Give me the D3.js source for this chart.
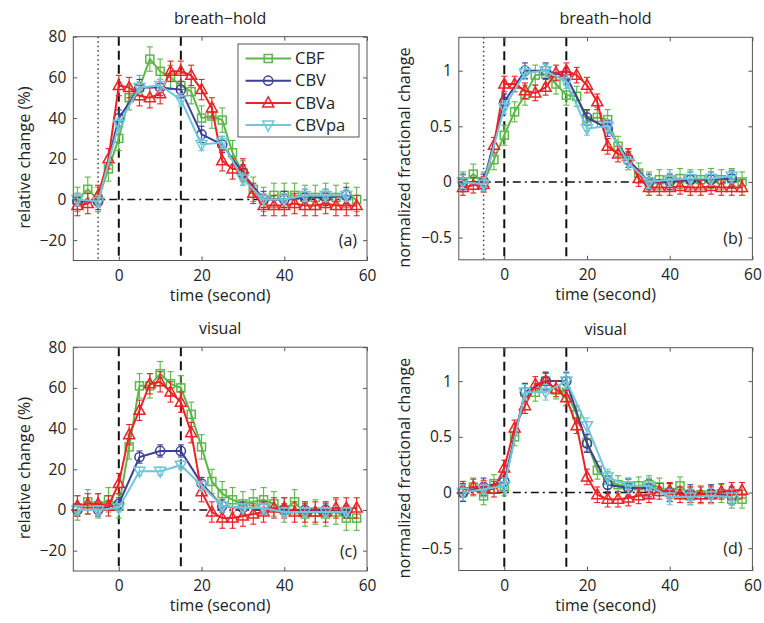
<!DOCTYPE html>
<html>
<head>
<meta charset="utf-8">
<script src="https://cdn.jsdelivr.net/npm/d3@7"></script>
<style>
  body { margin: 0; background: #fff; }
  text { font-family: "Open Sans", "DejaVu Sans", sans-serif; fill: #222; }
</style>
</head>
<body>
<div id="chart"></div>
<script>
// time points (s)
const tFine = [-10, -7.5, -5, -2.5, 0, 2.5, 5, 7.5, 10, 12.5, 15, 17.5, 20, 22.5, 25, 27.5, 30, 32.5, 35, 37.5, 40, 42.5, 45, 47.5, 50, 52.5, 55, 57.5];
const tCoarse = [-10, -5, 0, 5, 10, 15, 20, 25, 30, 35, 40, 45, 50, 55];

const seriesNames = ["CBF", "CBV", "CBVa", "CBVpa"];

// (a) breath-hold, relative change (%)
const bhCBF   = [0, 5, 0, 15, 30, 50, 55, 69, 63, 60, 56, 53, 40, 41, 39, 23, 13, 5, 0, 2, 2, 2, 1, 1, 2, 1, 2, 0];
const bhCBV   = [-1, -1, 40, 55, 55, 54, 32, 27, 13, 0, 0, 1, 1, 2];
const bhCBVa  = [-3, -2, 2, 20, 56, 55, 51, 50, 52, 63, 63, 61, 54, 45, 19, 15, 15, 3, -3, -3, -3, -2, -3, -3, -2, -3, -3, -3];
const bhCBVpa = [0, -1, 37, 55, 56, 49, 27, 28, 10, 0, 0, 2, 2, 2];
const bhErr   = [6, 4, 5, 3];

// (b) breath-hold, normalized
const bhCBFn   = [0, 0.07, 0, 0.2, 0.42, 0.63, 0.78, 0.96, 0.97, 0.88, 0.78, 0.77, 0.55, 0.58, 0.56, 0.32, 0.2, 0.08, 0, 0.02, 0.02, 0.03, 0.02, 0.02, 0.03, 0.02, 0.03, 0];
const bhCBVn   = [0, 0, 0.72, 1.0, 1.0, 0.95, 0.58, 0.48, 0.2, 0, 0, 0.02, 0.02, 0.03];
const bhCBVan  = [-0.05, -0.03, -0.02, 0.33, 0.88, 0.88, 0.82, 0.8, 0.85, 0.98, 1.0, 0.96, 0.87, 0.72, 0.32, 0.25, 0.23, 0.03, -0.05, -0.05, -0.05, -0.04, -0.05, -0.05, -0.04, -0.05, -0.05, -0.05];
const bhCBVpan = [0, -0.02, 0.67, 0.98, 1.0, 0.9, 0.48, 0.5, 0.17, 0, 0.02, 0.03, 0.03, 0.05];
const bhErrN   = [0.09, 0.07, 0.07, 0.06];

// (c) visual, relative change (%)
const vCBF   = [1, 4, 2, 5, 2, 31, 61, 61, 67, 62, 60, 47, 31, 14, 8, 5, 3, 4, 5, 3, 0, 4, -2, -1, -2, -1, -4, -4];
const vCBV   = [0, 0, 3, 26, 29, 29, 13, 2, 1, 1, 0, 0, 0, -1];
const vCBVa  = [2, 3, 3, 2, 13, 37, 49, 62, 63, 58, 53, 38, 9, -1, -4, -4, -3, -2, -1, 1, 1, -1, -1, -1, -1, 1, 1, 1];
const vCBVpa = [0, 0, 1, 19, 19, 22, 12, 2, 1, 1, -1, -1, -1, -1];
const vErr   = [6, 3, 5, 2];

// (d) visual, normalized
const vCBFn   = [0, 0.05, -0.03, 0.08, 0.05, 0.5, 0.9, 0.9, 1.0, 0.92, 0.9, 0.7, 0.45, 0.2, 0.11, 0.07, 0.05, 0.06, 0.07, 0.05, 0, 0.06, -0.03, -0.02, -0.02, -0.01, -0.06, -0.06];
const vCBVn   = [0, 0.05, 0.1, 0.9, 1.0, 1.0, 0.44, 0.07, 0.04, 0.04, 0, -0.01, -0.01, -0.03];
const vCBVan  = [0.03, 0.05, 0.04, 0.03, 0.22, 0.58, 0.78, 0.97, 1.0, 0.93, 0.85, 0.6, 0.14, -0.02, -0.06, -0.06, -0.05, -0.03, -0.02, 0.01, 0.02, -0.02, -0.02, -0.02, -0.02, 0.01, 0.02, 0.02];
const vCBVpan = [0, 0.03, 0.06, 0.9, 0.9, 1.0, 0.6, 0.14, 0.06, 0.06, -0.04, -0.04, -0.03, -0.04];
const vErrN   = [0.08, 0.08, 0.07, 0.07];

const xTicks = [0, 20, 40, 60];
const yTicksPct = [-20, 0, 20, 40, 60, 80];
const yTicksNorm = [-0.5, 0, 0.5, 1];

const colors = ["#5cb848", "#3d3f98", "#ec2227", "#70c6da"];
const shapes = ["square", "circle", "up", "down"];

const width = 764, height = 623;
const svg = d3.select("#chart").append("svg")
    .attr("width", width)
    .attr("height", height);

function marker(g, shape, x, y, color) {
    let m;
    if (shape === "square") {
        m = g.append("rect").attr("x", x - 4).attr("y", y - 4).attr("width", 8).attr("height", 8);
    } else if (shape === "circle") {
        m = g.append("circle").attr("cx", x).attr("cy", y).attr("r", 4.6);
    } else if (shape === "up") {
        m = g.append("path").attr("d", `M${x},${y - 6}L${x + 5.5},${y + 4}L${x - 5.5},${y + 4}Z`);
    } else {
        m = g.append("path").attr("d", `M${x},${y + 6}L${x + 5.5},${y - 4}L${x - 5.5},${y - 4}Z`);
    }
    m.attr("fill", "none").attr("stroke", color).attr("stroke-width", 1.5);
}

function drawPanel(p) {
    const x = d3.scaleLinear().domain([-11, 60]).range([p.left, p.right]);
    const y = d3.scaleLinear().domain(p.yDomain).range([p.bottom, p.top]);
    const g = svg.append("g");

    // plot area
    g.append("rect")
        .attr("x", p.left).attr("y", p.top)
        .attr("width", p.right - p.left).attr("height", p.bottom - p.top)
        .attr("fill", "#fff");

    // reference lines
    g.append("line")
        .attr("x1", x(-11)).attr("x2", x(57.5))
        .attr("y1", y(0)).attr("y2", y(0))
        .attr("stroke", "#111").attr("stroke-width", 1.6)
        .attr("stroke-dasharray", "8,4,2,4");
    [0, 15].forEach(t => {
        g.append("line")
            .attr("x1", x(t)).attr("x2", x(t))
            .attr("y1", p.top).attr("y2", p.bottom)
            .attr("stroke", "#111").attr("stroke-width", 2)
            .attr("stroke-dasharray", "9,5");
    });
    if (p.dotted) {
        g.append("line")
            .attr("x1", x(-5)).attr("x2", x(-5))
            .attr("y1", p.top).attr("y2", p.bottom)
            .attr("stroke", "#333").attr("stroke-width", 1.4)
            .attr("stroke-dasharray", "1.5,3");
    }

    // series
    p.series.forEach((vals, i) => {
        const ts = (i === 0 || i === 2) ? tFine : tCoarse;
        const pts = vals.map((v, k) => [ts[k], v]);
        const err = p.err[i];
        const c = colors[i];
        const sg = g.append("g");

        pts.forEach(d => {
            const xx = x(d[0]);
            sg.append("line")
                .attr("x1", xx).attr("x2", xx)
                .attr("y1", y(d[1] - err)).attr("y2", y(d[1] + err))
                .attr("stroke", c).attr("stroke-width", 1.1);
            [d[1] - err, d[1] + err].forEach(e => {
                sg.append("line")
                    .attr("x1", xx - 3).attr("x2", xx + 3)
                    .attr("y1", y(e)).attr("y2", y(e))
                    .attr("stroke", c).attr("stroke-width", 1.1);
            });
        });

        sg.append("path")
            .attr("d", d3.line().x(d => x(d[0])).y(d => y(d[1]))(pts))
            .attr("fill", "none").attr("stroke", c).attr("stroke-width", 2);

        pts.forEach(d => marker(sg, shapes[i], x(d[0]), y(d[1]), c));
    });

    // box + inward ticks on all sides
    g.append("rect")
        .attr("x", p.left).attr("y", p.top)
        .attr("width", p.right - p.left).attr("height", p.bottom - p.top)
        .attr("fill", "none").attr("stroke", "#555").attr("stroke-width", 1);

    const xAxis = g.append("g")
        .attr("transform", `translate(0,${p.bottom})`)
        .call(d3.axisBottom(x).tickValues(xTicks).tickSizeInner(-4).tickSizeOuter(0).tickPadding(9));
    g.append("g")
        .attr("transform", `translate(0,${p.top})`)
        .call(d3.axisTop(x).tickValues(xTicks).tickSizeInner(-4).tickSizeOuter(0).tickFormat(""));
    const yAxis = g.append("g")
        .attr("transform", `translate(${p.left},0)`)
        .call(d3.axisLeft(y).tickValues(p.yTicks).tickSizeInner(-4).tickSizeOuter(0).tickPadding(7)
            .tickFormat(d => d3.format("")(d).replace("-", "\u2212")));
    g.append("g")
        .attr("transform", `translate(${p.right},0)`)
        .call(d3.axisRight(y).tickValues(p.yTicks).tickSizeInner(-4).tickSizeOuter(0).tickFormat(""));

    g.selectAll(".domain").remove();
    g.selectAll(".tick line").attr("stroke", "#555");
    xAxis.selectAll("text").style("font-size", "15.5px").attr("fill", "#222");
    yAxis.selectAll("text").style("font-size", "15.5px").attr("fill", "#222");

    // labels
    g.append("text")
        .attr("x", (p.left + p.right) / 2).attr("y", p.top - 13)
        .attr("text-anchor", "middle").style("font-size", "16px")
        .text(p.title);
    g.append("text")
        .attr("x", (p.left + p.right) / 2).attr("y", p.bottom + 40)
        .attr("text-anchor", "middle").style("font-size", "16px")
        .text("time (second)");
    g.append("text")
        .attr("transform", `translate(${p.ylabX},${(p.top + p.bottom) / 2 + 9}) rotate(-90)`)
        .attr("text-anchor", "middle").style("font-size", "16.3px")
        .text(p.ylabel);
    g.append("text")
        .attr("x", p.right - 10).attr("y", y(p.yTicks[0]) + 6)
        .attr("text-anchor", "end").style("font-size", "16px")
        .text(p.tag);

    if (p.legend) {
        const lg = g.append("g");
        lg.append("rect")
            .attr("x", 238).attr("y", 44).attr("width", 121).attr("height", 93)
            .attr("fill", "#fff").attr("stroke", "#555").attr("stroke-width", 1);
        seriesNames.forEach((name, i) => {
            const ly = 58.5 + i * 22.2;
            lg.append("line")
                .attr("x1", 245.5).attr("x2", 291).attr("y1", ly).attr("y2", ly)
                .attr("stroke", colors[i]).attr("stroke-width", 2);
            marker(lg, shapes[i], 268.2, ly, colors[i]);
            lg.append("text")
                .attr("x", 295).attr("y", ly).attr("dy", "0.35em")
                .style("font-size", "16.5px")
                .text(name);
        });
    }
}

drawPanel({
    left: 73.3, right: 367, top: 36.7, bottom: 260.5,
    yDomain: [-30, 80], yTicks: yTicksPct,
    series: [bhCBF, bhCBV, bhCBVa, bhCBVpa], err: bhErr,
    title: "breath\u2212hold", ylabel: "relative change (%)", ylabX: 30, tag: "(a)",
    dotted: true, legend: true
});
drawPanel({
    left: 458.8, right: 752.4, top: 37.3, bottom: 259.8,
    yDomain: [-0.7, 1.3], yTicks: yTicksNorm,
    series: [bhCBFn, bhCBVn, bhCBVan, bhCBVpan], err: bhErrN,
    title: "breath\u2212hold", ylabel: "normalized fractional change", ylabX: 410, tag: "(b)",
    dotted: true, legend: false
});
drawPanel({
    left: 73.3, right: 367, top: 347.2, bottom: 571,
    yDomain: [-30, 80], yTicks: yTicksPct,
    series: [vCBF, vCBV, vCBVa, vCBVpa], err: vErr,
    title: "visual", ylabel: "relative change (%)", ylabX: 30, tag: "(c)",
    dotted: false, legend: false
});
drawPanel({
    left: 458.8, right: 752.4, top: 347.7, bottom: 570.5,
    yDomain: [-0.7, 1.3], yTicks: yTicksNorm,
    series: [vCBFn, vCBVn, vCBVan, vCBVpan], err: vErrN,
    title: "visual", ylabel: "normalized fractional change", ylabX: 410, tag: "(d)",
    dotted: false, legend: false
});
</script>
</body>
</html>
